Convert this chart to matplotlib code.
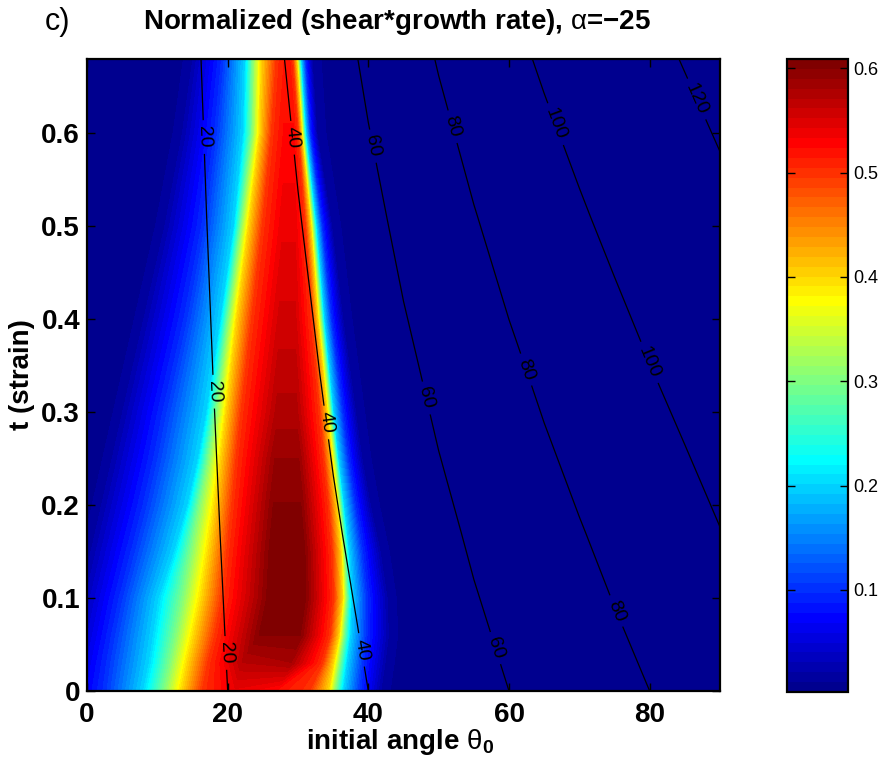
import numpy as np
import matplotlib
matplotlib.use("Agg")
import matplotlib.pyplot as plt
from matplotlib import cm, colors

plt.rcParams['font.family'] = ['Liberation Sans', 'DejaVu Sans']
plt.rcParams['mathtext.fontset'] = 'custom'
plt.rcParams['mathtext.rm'] = 'Liberation Sans'
plt.rcParams['mathtext.bf'] = 'Liberation Sans:bold'
plt.rcParams['mathtext.it'] = 'Liberation Sans:italic'

# ---------------- data ----------------
# current angle theta (contour lines) on a grid of initial angle x strain
theta0_cols = [0, 5, 10, 15, 20, 25, 30, 35, 40, 45, 50, 55, 60, 65, 70, 75, 80, 85, 90]
angle_t_rows = [0.0, 0.17, 0.34, 0.51, 0.68]
current_angle = [
    [0, 5, 10, 15, 20, 25, 30, 35, 40, 45, 50, 55, 60, 65, 70, 75, 80, 85, 90],
    [0, 5.08, 10.30, 15.68, 21.20, 26.85, 32.63, 38.48, 44.38, 50.31, 56.22, 62.08, 67.85, 73.51, 79.02, 84.40, 89.66, 94.72, 99.65],
    [0, 5.15, 10.62, 16.45, 22.56, 28.99, 35.70, 42.59, 49.57, 56.58, 63.48, 70.20, 76.67, 82.82, 88.63, 94.12, 99.31, 104.17, 108.78],
    [0, 5.23, 10.97, 17.24, 24.09, 31.45, 39.29, 47.45, 55.71, 63.90, 71.79, 79.24, 86.17, 92.52, 98.31, 103.60, 108.47, 112.91, 117.02],
    [0, 5.31, 11.33, 18.14, 25.82, 34.32, 43.55, 53.20, 62.89, 72.26, 80.97, 88.85, 95.88, 102.08, 107.54, 112.39, 116.75, 120.65, 124.22],
]
contour_levels = [20, 40, 60, 80, 100, 120]

# normalized shear*growth rate: for each strain row, the initial angles at which
# the rate passes given values along the left flank, the crest and the right flank
rate_t_rows = [0.0, 0.03, 0.06, 0.10, 0.15, 0.20, 0.25, 0.30, 0.40, 0.50, 0.60, 0.68]
left_02 = [-4.0, -3.0, -2.0, -1.0, 0.5, 2.0, 3.5, 5.0, 8.0, 11.0, 13.5, 15.0]
left_10 = [2.5, 3.0, 3.7, 4.8, 6.5, 8.2, 9.7, 11.0, 14.0, 16.5, 18.3, 19.3]
left_20 = [8.0, 8.8, 9.4, 10.2, 12.4, 14.3, 15.8, 17.0, 19.0, 20.9, 22.2, 22.5]
left_30 = [11.0, 11.8, 12.6, 13.6, 14.8, 16.0, 17.3, 18.4, 20.1, 21.9, 23.5, 23.6]
left_40 = [13.5, 14.3, 15.2, 16.3, 17.3, 18.2, 19.0, 19.8, 21.3, 23.0, 24.6, 24.8]
left_50 = [16.5, 17.3, 18.3, 19.3, 20.0, 20.7, 21.3, 22.0, 23.5, 25.0, 26.3, 27.0]
crest_start = [21.0, 22.0, 24.5, 26.0, 26.3, 26.5, 26.7, 27.0, 27.3, 27.8, 28.0, 28.1]
crest_end = [27.0, 29.0, 30.3, 30.8, 30.7, 30.4, 30.1, 29.8, 29.6, 29.6, 29.4, 28.8]
crest_start_val = [0.54, 0.57, 0.60, 0.607, 0.607, 0.60, 0.59, 0.575, 0.555, 0.54, 0.525, 0.515]
crest_end_val = [0.52, 0.58, 0.60, 0.607, 0.607, 0.60, 0.59, 0.575, 0.555, 0.54, 0.525, 0.515]
right_50 = [31.5, 33.4, 34.5, 35.0, 34.8, 34.3, 33.6, 33.0, 31.9, 31.0, 30.0, 29.2]
right_40 = [34.3, 35.0, 35.8, 36.3, 36.1, 35.5, 34.8, 34.1, 32.8, 31.8, 30.5, 29.8]
right_30 = [35.3, 35.9, 36.5, 36.9, 36.6, 36.0, 35.3, 34.6, 33.3, 32.2, 30.8, 30.1]
right_20 = [36.4, 36.9, 37.4, 37.6, 37.2, 36.5, 35.7, 35.0, 33.7, 32.6, 31.1, 30.4]
right_10 = [38.8, 39.2, 39.7, 39.8, 39.1, 38.1, 37.1, 36.3, 34.7, 33.4, 31.7, 31.0]
right_02 = [41.8, 42.4, 42.9, 42.7, 41.7, 40.3, 39.1, 38.2, 36.4, 34.8, 32.7, 32.0]

color_min, color_max = 0.002, 0.609
xticks = [0, 20, 40, 60, 80]
yticks = [0, 0.1, 0.2, 0.3, 0.4, 0.5, 0.6]
ytick_labels = ['0', '0.1', '0.2', '0.3', '0.4', '0.5', '0.6']
cbar_ticks = [0.1, 0.2, 0.3, 0.4, 0.5, 0.6]
cbar_labels = ['0.1', '0.2', '0.3', '0.4', '0.5', '0.6']


def matlab_jet(n=64):
    m = n // 4
    u = np.r_[np.arange(1, m + 1) / m, np.ones(m - 1), np.arange(m, 0, -1) / m]
    g = int(np.ceil(m / 2)) - (n % 4 == 1) + np.arange(1, len(u) + 1)
    r = g + m
    b = g - m
    J = np.zeros((n, 3))
    J[r[r <= n] - 1, 0] = u[r <= n]
    J[g[g <= n] - 1, 1] = u[g <= n]
    J[b[b >= 1] - 1, 2] = u[b >= 1]
    return colors.ListedColormap(J)


# ---------------- figure ----------------
fig = plt.figure(figsize=(8.8, 7.61), dpi=100)
ax = fig.add_axes([87 / 880, 70 / 761, 633 / 880, 632 / 761])
cax = fig.add_axes([787 / 880, 69 / 761, 61 / 880, 633 / 761])

jet64 = matlab_jet(64)

n_rows = len(rate_t_rows)
l02 = np.array(left_02)
r02 = np.array(right_02)
X = np.column_stack([np.full(n_rows, -8.0), l02 - 3.0, l02, left_10, left_20,
                     left_30, left_40, left_50, crest_start, crest_end,
                     right_50, right_40, right_30, right_20, right_10, r02,
                     r02 + 3.0, np.full(n_rows, 95.0)])
Y = np.repeat(np.array(rate_t_rows)[:, None], X.shape[1], axis=1)
flank_left = [0.0, 0.0, 0.02, 0.1, 0.2, 0.3, 0.4, 0.5]
flank_right = [0.5, 0.4, 0.3, 0.2, 0.1, 0.02, 0.0, 0.0]
Z = np.column_stack([np.full(n_rows, v) for v in flank_left]
                    + [crest_start_val, crest_end_val]
                    + [np.full(n_rows, v) for v in flank_right])
levels = np.linspace(color_min, color_max, 65)
ax.contourf(X, Y, Z, levels=levels, cmap=jet64, vmin=color_min, vmax=color_max,
            extend='both', antialiased=False)

ax.set_xlim(0, 90)
ax.set_ylim(0, 0.68)

cs = ax.contour(theta0_cols, angle_t_rows, current_angle, levels=contour_levels,
                colors='k', linewidths=0.9)
label_spots = [(16.5, 0.596), (17.9, 0.322), (19.9, 0.041),
               (28.9, 0.595), (34.1, 0.289), (38.8, 0.044),
               (40.5, 0.586), (48.1, 0.315), (58.0, 0.046),
               (51.9, 0.607), (62.1, 0.345), (74.9, 0.085),
               (66.3, 0.609), (80.1, 0.354),
               (86.4, 0.636)]
ax.clabel(cs, fmt='%d', fontsize=14, manual=label_spots, inline=True,
          inline_spacing=6)

ax.set_xticks(xticks)
ax.set_yticks(yticks)
ax.set_yticklabels(ytick_labels)
ax.tick_params(direction='in', length=6, width=1, top=True, right=True,
               labelsize=20)
ax.tick_params(axis='x', pad=8)
ax.tick_params(axis='y', pad=5)
for lab in ax.get_xticklabels() + ax.get_yticklabels():
    lab.set_fontweight('bold')
for s in ax.spines.values():
    s.set_linewidth(1.6)

sm = cm.ScalarMappable(norm=colors.Normalize(color_min, color_max), cmap=jet64)
cb = fig.colorbar(sm, cax=cax, ticks=cbar_ticks)
cb.ax.set_yticklabels(cbar_labels)
cb.ax.tick_params(direction='in', length=6, width=1, left=True, right=True,
                  labelsize=13, pad=4)
cb.outline.set_linewidth(1.6)

fig.text(397 / 880, 1 - 22 / 761,
         r'Normalized (shear*growth rate), $\mathrm{\alpha}$=$\mathbf{-25}$',
         ha='center', va='center', fontsize=20, fontweight='bold')
fig.text(45 / 880, 1 - 22 / 761, 'c)', ha='left', va='center', fontsize=22)
fig.text(400 / 880, 12 / 761, r'initial angle $\mathrm{\theta}_{\mathbf{0}}$',
         ha='center', va='baseline', fontsize=20, fontweight='bold')
fig.text(22 / 880, 1 - 375 / 761, 't (strain)', rotation=90, ha='center',
         va='center', fontsize=20, fontweight='bold')

fig.savefig('out.png', dpi=100)
